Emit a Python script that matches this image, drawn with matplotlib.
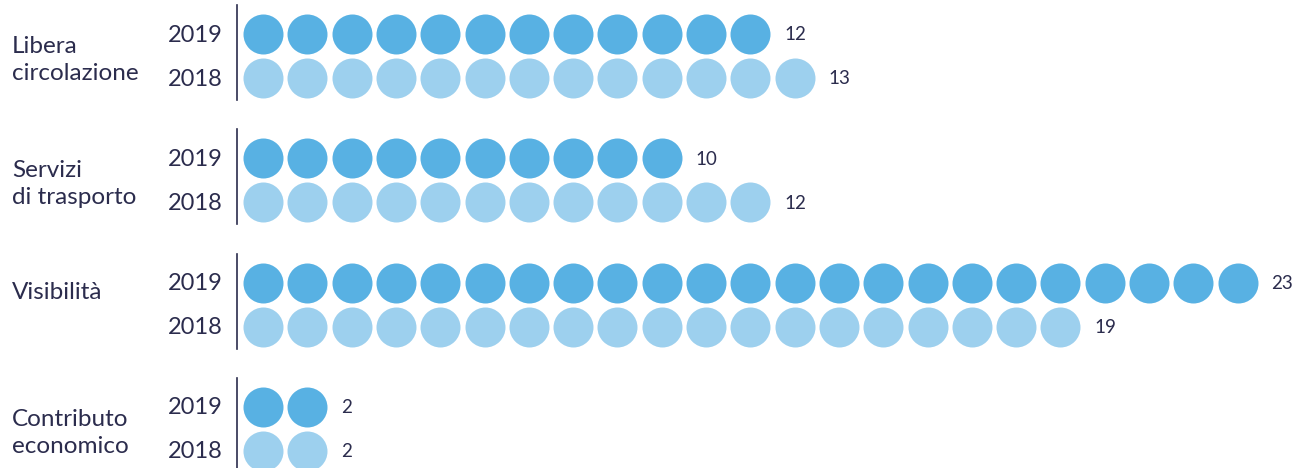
import matplotlib
matplotlib.use("Agg")
import matplotlib.pyplot as plt

categories = ["Libera\ncircolazione", "Servizi\ndi trasporto", "Visibilità", "Contributo\neconomico"]
years = ["2019", "2018"]
values_2019 = [12, 10, 23, 2]
values_2018 = [13, 12, 19, 2]

COLOR_2019 = "#58b1e3"
COLOR_2018 = "#9dd0ee"
TEXT = "#2b2c4d"

# layout in pixel units (figure is 1296x468 at dpi 100)
X0 = 263
PITCH = 44.3
GROUP_Y0 = 34
GROUP_STEP = 124.3
ROW_GAP = 44
DOT_PT = 28.8
LABEL_OFFSETS = [26, 26, 10, 26]

fig = plt.figure(figsize=(12.96, 4.68), dpi=100)
ax = fig.add_axes([0, 0, 1, 1])
ax.set_xlim(0, 1296)
ax.set_ylim(468, 0)
ax.axis("off")

for g, (cat, v19, v18) in enumerate(zip(categories, values_2019, values_2018)):
    y19 = GROUP_Y0 + g * GROUP_STEP
    y18 = y19 + ROW_GAP
    for y, n, color, year in [(y19, v19, COLOR_2019, years[0]), (y18, v18, COLOR_2018, years[1])]:
        xs = [X0 + i * PITCH for i in range(n)]
        ax.scatter(xs, [y] * n, s=DOT_PT ** 2, color=color, linewidths=0, zorder=3)
        ax.text(223, y + 1, year, ha="right", va="center", fontsize=17, color=TEXT,
                family="Lato")
        ax.text(xs[-1] + 34, y + 1, str(n), ha="left", va="center", fontsize=13.5, color=TEXT,
                family="Lato")
    ax.plot([237, 237], [y19 - 29, y18 + 22], color=TEXT, lw=1.2)
    ax.text(12, y19 + LABEL_OFFSETS[g], cat, ha="left", va="center", fontsize=17.5,
            color=TEXT, family="Lato", linespacing=1.35)

fig.savefig("out.png", dpi=100)
